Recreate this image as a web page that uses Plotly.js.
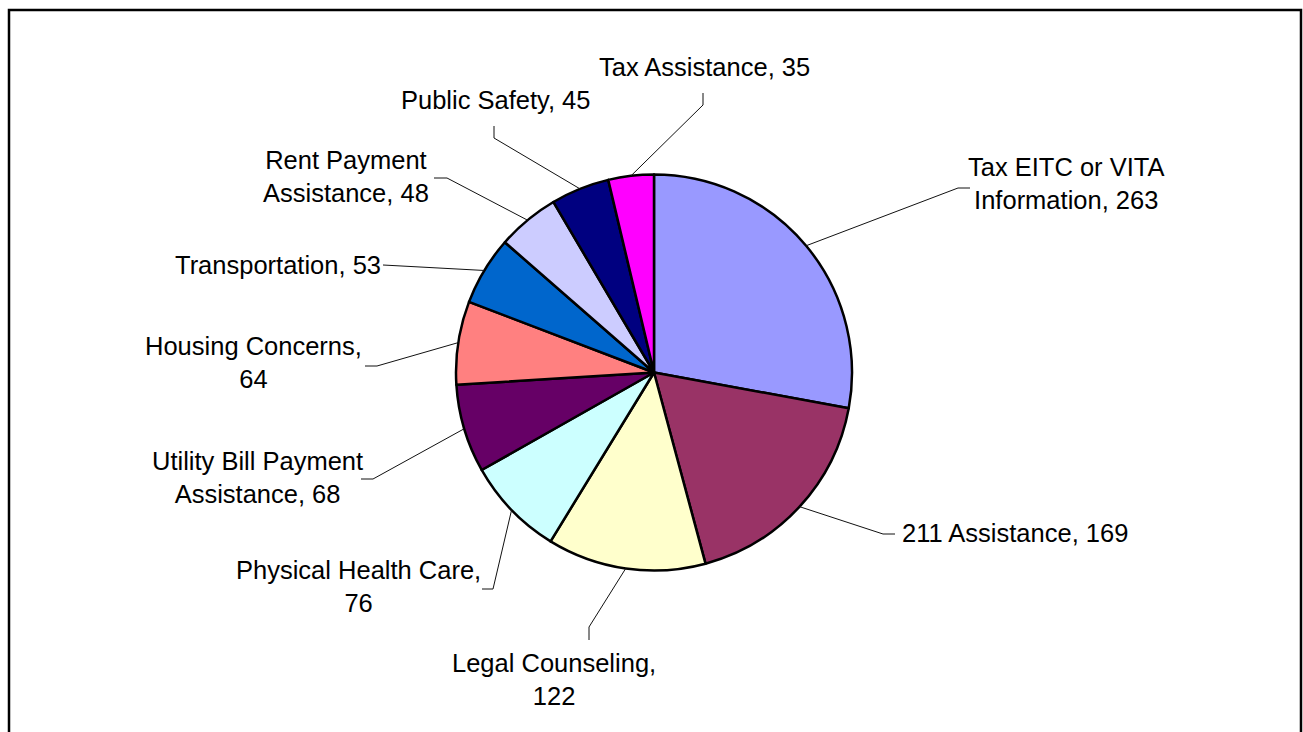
<!DOCTYPE html>
<html>
<head>
<meta charset="utf-8">
<script src="https://cdn.plot.ly/plotly-3.0.1.min.js"></script>
<style>html,body{margin:0;padding:0;background:#fff;}#chart{width:1303px;height:732px;}</style>
</head>
<body>
<div id="chart"></div>
<script>
// ---- data ----
const categories = [
  "Tax EITC or VITA Information", "211 Assistance", "Legal Counseling",
  "Physical Health Care", "Utility Bill Payment Assistance", "Housing Concerns",
  "Transportation", "Rent Payment Assistance", "Public Safety", "Tax Assistance"
];
const values = [263, 169, 122, 76, 68, 64, 53, 48, 45, 35];
const labelTexts = [
  "Tax EITC or VITA<br>Information, 263", "211 Assistance, 169", "Legal Counseling,<br>122",
  "Physical Health Care,<br>76", "Utility Bill Payment<br>Assistance, 68", "Housing Concerns,<br>64",
  "Transportation, 53", "Rent Payment<br>Assistance, 48", "Public Safety, 45", "Tax Assistance, 35"
];
const colors = ["#9999FF", "#993366", "#FFFFCC", "#CCFFFF", "#660066",
                "#FF8080", "#0066CC", "#CCCCFF", "#000080", "#FF00FF"];

// ---- layout (pixels) ----
const W = 1303, H = 732;
const CX = 654, CY = 372.5, R = 198;
// label placement: text anchor point, leader elbow and leader end (pixels)
const placement = [
  {x: 1066, y: 183, xa: "center", elbow: [958, 188], end: [970, 188]},
  {x: 900, y: 533, xa: "left", elbow: [883, 534], end: [895, 534]},
  {x: 554, y: 679, xa: "center", elbow: [589, 627], end: [589, 640]},
  {x: 358, y: 586, xa: "center", elbow: [493, 589], end: [482, 589]},
  {x: 257, y: 477, xa: "center", elbow: [373, 479], end: [361, 479]},
  {x: 253, y: 362, xa: "center", elbow: [377, 366], end: [365, 366]},
  {x: 383, y: 265, xa: "right", elbow: [383, 265], end: [383, 265]},
  {x: 346, y: 176, xa: "center", elbow: [447, 178], end: [434, 178]},
  {x: 495, y: 100, xa: "center", elbow: [494, 138], end: [494, 126]},
  {x: 704, y: 67, xa: "center", elbow: [703, 105], end: [703, 93]}
];

const px = v => v / W;
const py = v => 1 - v / H;

const total = values.reduce((a, b) => a + b, 0);
let cum = 0;
const shapes = [];
const annotations = [];
values.forEach((v, i) => {
  const mid = (cum + v / 2) / total * 2 * Math.PI; // clockwise from 12 o'clock
  cum += v;
  const sx = CX + R * Math.sin(mid);
  const sy = CY - R * Math.cos(mid);
  const p = placement[i];
  shapes.push({
    type: "path", xref: "paper", yref: "paper",
    path: `M ${px(sx)},${py(sy)} L ${px(p.elbow[0])},${py(p.elbow[1])} L ${px(p.end[0])},${py(p.end[1])}`,
    line: {color: "#111", width: 1}
  });
  annotations.push({
    xref: "paper", yref: "paper", x: px(p.x), y: py(p.y),
    xanchor: p.xa, yanchor: "middle", align: "center",
    text: labelTexts[i], showarrow: false,
    font: {family: "Liberation Sans, Arial, sans-serif", size: 25.5, color: "#000"}
  });
});

// outer frame
shapes.push({
  type: "rect", xref: "paper", yref: "paper",
  x0: px(9), x1: px(1301), y0: py(745), y1: py(10),
  line: {color: "#000", width: 2.5}, fillcolor: "rgba(0,0,0,0)"
});

const trace = {
  type: "pie",
  labels: categories,
  values: values,
  sort: false,
  direction: "clockwise",
  rotation: 0,
  textinfo: "none",
  hoverinfo: "label+value",
  showlegend: false,
  marker: {colors: colors, line: {color: "#000", width: 2.5}},
  domain: {x: [px(CX - R), px(CX + R)], y: [py(CY + R), py(CY - R)]}
};

const layout = {
  width: W, height: H,
  margin: {l: 0, r: 0, t: 0, b: 0},
  paper_bgcolor: "#fff",
  showlegend: false,
  shapes: shapes,
  annotations: annotations
};

Plotly.newPlot("chart", [trace], layout, {displayModeBar: false, staticPlot: true});
</script>
</body>
</html>
